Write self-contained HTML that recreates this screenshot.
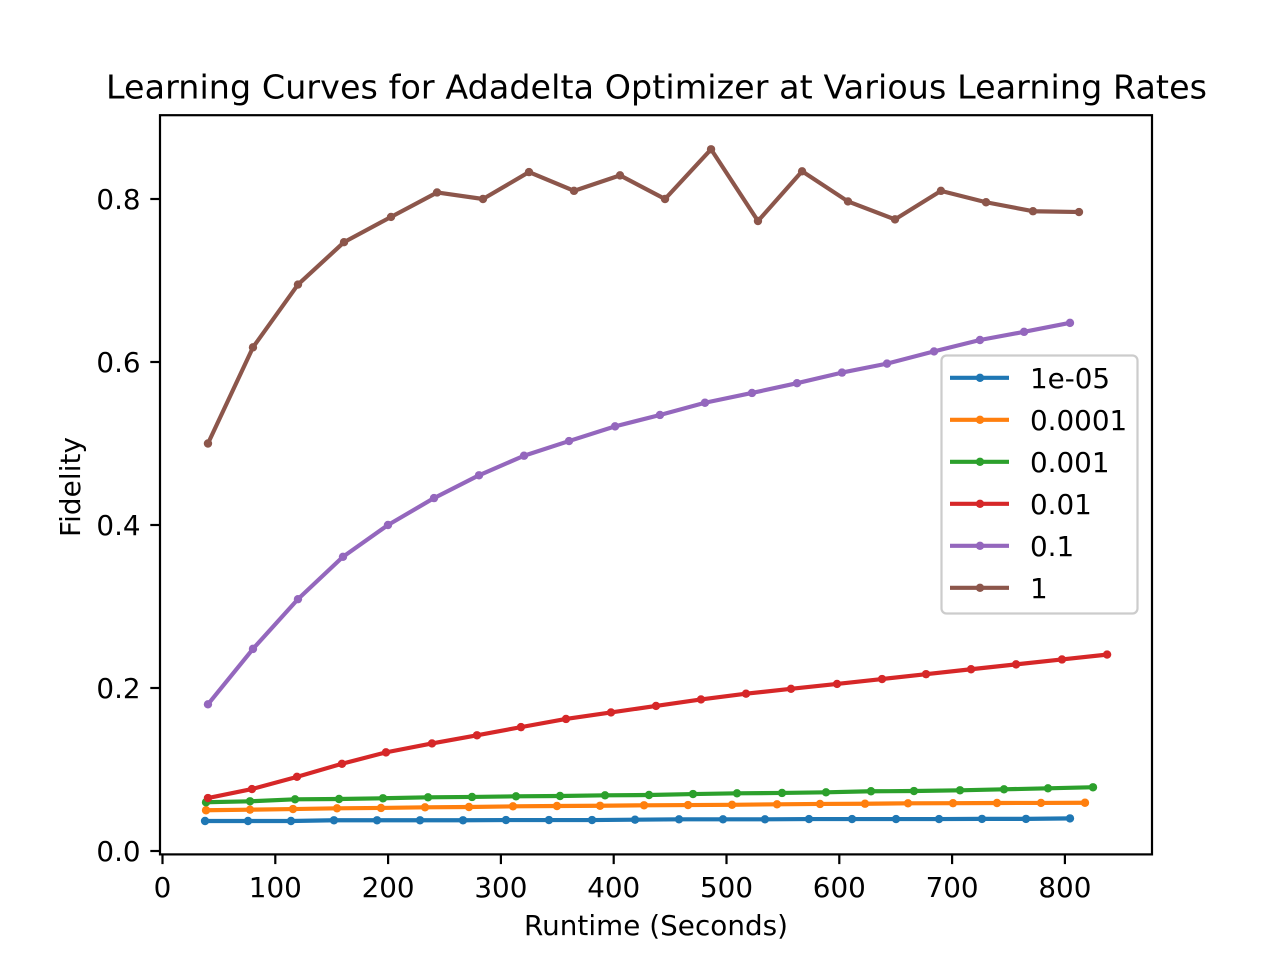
<!DOCTYPE html>
<html>
<head>
<meta charset="utf-8">
<title>Learning Curves for Adadelta Optimizer</title>
<style>
html,body{margin:0;padding:0;background:#fff;}
svg{display:block;}
text{font-family:"DejaVu Sans","Liberation Sans",sans-serif;fill:#000;}
</style>
</head>
<body>
<svg id="chart" xmlns="http://www.w3.org/2000/svg" width="1280" height="960" viewBox="0 0 1280 960">
  <rect x="0" y="0" width="1280" height="960" fill="#fff"/>
  <rect x="160" y="115.2" width="992" height="739.2" fill="#fff"/>
  <g id="series-layer"></g>
  <g id="legend-layer"></g>
  <rect x="160" y="115.2" width="992" height="739.2" fill="none" stroke="#000" stroke-width="2.2"/>
  <g id="x-axis"></g>
  <g id="y-axis"></g>
  <text x="656.5" y="98.7" font-size="33.3" text-anchor="middle" textLength="1101" lengthAdjust="spacing">Learning Curves for Adadelta Optimizer at Various Learning Rates</text>
  <text x="656" y="935" font-size="27.78" text-anchor="middle" textLength="264" lengthAdjust="spacing">Runtime (Seconds)</text>
  <text transform="translate(80 487) rotate(-90)" x="0" y="0" font-size="27.78" text-anchor="middle" textLength="100" lengthAdjust="spacing">Fidelity</text>
</svg>
<script>
var seriesLabels = ['1e-05', '0.0001', '0.001', '0.01', '0.1', '1'];
var seriesColors = ['#1f77b4', '#ff7f0e', '#2ca02c', '#d62728', '#9467bd', '#8c564b'];
var xTicks = [0, 100, 200, 300, 400, 500, 600, 700, 800];
var yTicks = [0, 0.2, 0.4, 0.6, 0.8];
var yTickLabels = ['0.0', '0.2', '0.4', '0.6', '0.8'];

var runtime1e5 = [37.7,75.8,113.9,152,190.2,228.3,266.4,304.5,342.6,380.8,418.9,457.9,496.9,534.1,573.1,611.3,650.3,688.4,726.5,765.5,804.5];
var fidelity1e5 = [0.0368,0.0368,0.0368,0.0377,0.0377,0.0377,0.0377,0.038,0.038,0.038,0.0384,0.0389,0.0389,0.0389,0.0392,0.0392,0.0392,0.0392,0.0394,0.0394,0.04];
var runtime1e4 = [38.6,77.6,115.7,154.7,193.7,232.7,271.7,310.7,349.7,387.9,426.9,465.9,504.9,544.8,582.9,622.8,660.9,700.8,739.8,778.8,817.8];
var fidelity1e4 = [0.05,0.0507,0.0515,0.0524,0.0528,0.0536,0.054,0.0548,0.0552,0.0555,0.0561,0.0564,0.0567,0.0573,0.0577,0.058,0.0585,0.0587,0.0589,0.059,0.0592];
var runtime1e3 = [38.6,77.6,117.5,156.5,195.5,235.4,274.4,313.4,352.4,392.3,431.3,470.3,509.3,549.2,588.2,628.1,666.2,707,746,785,824.9];
var fidelity1e3 = [0.0598,0.061,0.0634,0.0638,0.0647,0.0659,0.0663,0.0671,0.0675,0.0683,0.0687,0.0699,0.0708,0.0712,0.072,0.0733,0.0736,0.0745,0.0757,0.0769,0.0782];
var runtime1e2 = [40.3,79.3,119.2,159.1,198.1,238.9,278.8,317.8,357.7,397.6,437.5,477.4,517.3,557.2,598,637.9,676.9,716.8,756.7,797.4,837.4];
var fidelity1e2 = [0.065,0.076,0.091,0.107,0.121,0.132,0.142,0.152,0.162,0.17,0.178,0.186,0.193,0.199,0.205,0.211,0.217,0.223,0.229,0.235,0.241];
var runtime1e1 = [40.3,80.2,120.1,160,199.9,240.7,280.6,320.5,360.4,401.2,441,480.9,522.6,562.5,602.4,642.3,684,724.7,763.8,804.5];
var fidelity1e1 = [0.18,0.248,0.309,0.361,0.4,0.433,0.461,0.485,0.503,0.521,0.535,0.55,0.562,0.574,0.587,0.598,0.613,0.627,0.637,0.648];
var runtime1 = [40.3,80.2,120.1,160.9,202.6,243.4,284.1,324.9,364.8,405.6,445.5,486.3,527.9,567,607.7,649.4,690.1,730.1,771.7,812.5];
var fidelity1 = [0.5,0.618,0.695,0.747,0.778,0.808,0.8,0.833,0.81,0.829,0.8,0.861,0.773,0.834,0.797,0.775,0.81,0.796,0.785,0.784];

var allRuntimes = [runtime1e5, runtime1e4, runtime1e3, runtime1e2, runtime1e1, runtime1];
var allFidelities = [fidelity1e5, fidelity1e4, fidelity1e3, fidelity1e2, fidelity1e1, fidelity1];

var NS = 'http://www.w3.org/2000/svg';
function xScale(v) { return 162.5 + 1.128 * v; }
function yScale(v) { return 851 - 815 * v; }
function make(tag, attrs, parent) {
  var el = document.createElementNS(NS, tag);
  for (var k in attrs) { el.setAttribute(k, attrs[k]); }
  parent.appendChild(el);
  return el;
}

var seriesLayer = document.getElementById('series-layer');
allRuntimes.forEach(function (xs, s) {
  var ys = allFidelities[s];
  var group = make('g', {}, seriesLayer);
  
  
  var pts = xs.map(function (x, i) { return xScale(x).toFixed(2) + ',' + yScale(ys[i]).toFixed(2); }).join(' ');
  var line = make('polyline', { points: pts, fill: 'none', stroke: seriesColors[s], 'stroke-width': 4.17, 'stroke-linejoin': 'round', 'stroke-linecap': 'square' }, group);
  
  
  xs.forEach(function (x, i) {
    var dot = make('circle', { cx: xScale(x).toFixed(2), cy: yScale(ys[i]).toFixed(2), r: 4.2, fill: seriesColors[s] }, group);
    
    
  });
});

var xAxis = document.getElementById('x-axis');
xTicks.forEach(function (t) {
  var px = xScale(t);
  var mark = make('line', { x1: px, x2: px, y1: 854.4, y2: 864.1, stroke: '#000', 'stroke-width': 2.2 }, xAxis);
  
  
  var label = make('text', { x: px, y: 897, 'font-size': 27.78, 'text-anchor': 'middle' }, xAxis);
  label.textContent = String(t);
  
  
});

var yAxis = document.getElementById('y-axis');
yTicks.forEach(function (t, i) {
  var py = yScale(t);
  var mark = make('line', { x1: 150.3, x2: 160, y1: py, y2: py, stroke: '#000', 'stroke-width': 2.2 }, yAxis);
  
  
  var label = make('text', { x: 140.6, y: py + 10, 'font-size': 27.78, 'text-anchor': 'end' }, yAxis);
  label.textContent = yTickLabels[i];
  
  
});

var legend = document.getElementById('legend-layer');
var legendBox = make('rect', { x: 941.5, y: 355.5, width: 196, height: 258, rx: 5, ry: 5, fill: '#fff', 'fill-opacity': 0.8, stroke: '#cccccc', 'stroke-width': 2.2 }, legend);


seriesLabels.forEach(function (lab, i) {
  var ly = 377.8 + i * 42;
  var entry = make('g', {}, legend);
  
  
  make('line', { x1: 950, x2: 1009, y1: ly, y2: ly, stroke: seriesColors[i], 'stroke-width': 4.17 }, entry);
  make('circle', { cx: 980, cy: ly, r: 4.2, fill: seriesColors[i] }, entry);
  var t = make('text', { x: 1030, y: ly + 10, 'font-size': 27.78 }, entry);
  t.textContent = lab;
});
</script>
</body>
</html>
